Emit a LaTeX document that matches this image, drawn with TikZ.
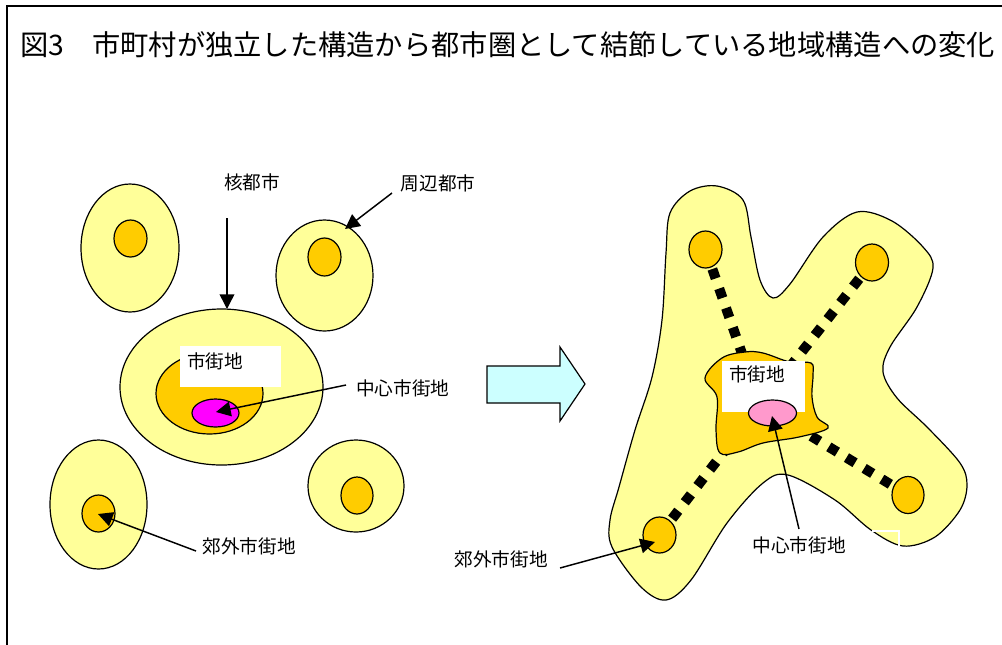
\documentclass[tikz,border=0pt]{standalone}
\usepackage{fontspec}
\setmainfont{Noto Sans CJK JP}
\usetikzlibrary{arrows.meta}
\definecolor{lyellow}{HTML}{FFFF99}
\definecolor{gold}{HTML}{FFCC00}
\definecolor{magen}{HTML}{FF00FF}
\definecolor{pinkc}{HTML}{FF99CC}
\definecolor{cyanc}{HTML}{CCFFFF}
\begin{document}
\begin{tikzpicture}[x=0.75pt,y=-0.75pt,
  outl/.style={draw=black,line width=0.9pt},
  city/.style={outl,fill=lyellow},
  core/.style={outl,fill=gold},
  lbl/.style={inner sep=0pt,font=\fontsize{14pt}{16pt}\selectfont},
  ttl/.style={inner sep=0pt,anchor=west,font=\fontsize{21.2pt}{24pt}\selectfont},
  ptr/.style={draw=black,line width=1.1pt,-{Triangle[length=11pt,width=11pt]}},
  dots/.style={draw=black,line width=7.5pt,dash pattern=on 7.5pt off 8pt}]
\useasboundingbox (0,0) rectangle (1002,644);
\fill[white] (0,0) rectangle (1002,644);
% frame
\draw[line width=1.2pt] (1003,6) -- (7,6) -- (7,645);
% title
\node[ttl] (t1) at (20,45) {図3};
\node[ttl] (t2) at (92,45) {市町村が独立した構造から都市圏として結節している地域構造への変化};

% ---------------- left diagram ----------------
\draw[city] (130,248) ellipse [x radius=49, y radius=64];
\draw[core] (130.5,238.5) ellipse [x radius=16.5, y radius=18.5];
\draw[city] (324.5,275.5) ellipse [x radius=48.5, y radius=55.5];
\draw[core] (324.5,257) ellipse [x radius=16.5, y radius=19];
\draw[city] (98.5,504.5) ellipse [x radius=48.5, y radius=64.5];
\draw[core] (98.5,513.5) ellipse [x radius=16.5, y radius=18.5];
\draw[city] (356,486) ellipse [x radius=48, y radius=46];
\draw[core] (357,495.5) ellipse [x radius=16, y radius=18.5];
\draw[city] (221.5,387) ellipse [x radius=101.5, y radius=78];
\draw[core] (209.5,393.5) ellipse [x radius=53.5, y radius=40.5];
\fill[white] (180,346) rectangle (281,387);
\node[lbl,anchor=west] (lm) at (187,361) {市街地};
\draw[outl,fill=magen] (215.5,413) ellipse [x radius=23.5, y radius=14];

\node[lbl] (lcore) at (252,182) {核都市};
\node[lbl] (lsat) at (438,183) {周辺都市};
\node[lbl,anchor=west] (lcbd) at (356,388) {中心市街地};
\node[lbl] (lsub) at (249,546) {郊外市街地};
\coordinate (a1s) at (227,218); \coordinate (a1e) at (227,309);
\coordinate (a2s) at (392,193); \coordinate (a2e) at (345,229);
\coordinate (a3s) at (346,385); \coordinate (a3e) at (216,412);
\coordinate (a4s) at (196,551); \coordinate (a4e) at (98,514);
\draw[ptr] (a1s) -- (a1e);
\draw[ptr] (a2s) -- (a2e);
\draw[ptr] (a3s) -- (a3e);
\draw[ptr] (a4s) -- (a4e);

% block arrow
\draw[outl,fill=cyanc] (487,366) -- (560,366) -- (560,347) -- (585,384) -- (560,421) -- (560,403) -- (487,403) -- cycle;

% ---------------- right diagram ----------------
\draw[city] plot[smooth cycle, tension=0.55] coordinates {
 (717,186) (743,200) (751,237) (760,280) (773,298) (790,284) (823,237)
 (857,212) (892,221) (923,247) (933,268) (917,307) (890,347) (883,372)
 (897,398) (928,428) (960,463) (967,485) (960,510) (935,537) (903,546)
 (871,530) (835,500) (788,475) (763,483) (727,523) (691,580) (666,600)
 (641,587) (612,547) (610,520) (619,487) (635,430) (652,377) (662,320)
 (666,253) (670,213) (690,191)};
\coordinate (hub) at (760,405);
\coordinate (d1) at (705.5,249.5);
\coordinate (d2) at (872,262.5);
\coordinate (d3) at (908,495);
\coordinate (d4) at (659.5,535);
\draw[dots] (d1) -- (hub);
\draw[dots] (d2) -- (hub);
\draw[dots] (d3) -- (hub);
\draw[dots] (d4) -- (hub);
\draw[core] (d1) ellipse [x radius=16.5, y radius=18.5];
\draw[core] (d2) ellipse [x radius=16.5, y radius=18.5];
\draw[core] (d3) ellipse [x radius=16, y radius=18.5];
\draw[core] (d4) ellipse [x radius=16.5, y radius=18];
\draw[core] plot[smooth cycle, tension=0.6] coordinates {
 (705,378) (722,358) (745,352) (763,353) (790,362) (811,363) (813,375)
 (812,397) (817,417) (828,428) (799,437) (763,443) (738,452) (720,453)
 (716,430) (717,397)};
\fill[white] (722,361) rectangle (805,412);
\node[lbl,anchor=west] (rm) at (729,374) {市街地};
\draw[outl,fill=pinkc] (772.5,413) ellipse [x radius=24, y radius=13];
\draw[white,line width=1.1pt] (872,531) -- (899,531) -- (899,546);

\node[lbl] (rcbd) at (799,545) {中心市街地};
\node[lbl] (rsub) at (501,559) {郊外市街地};
\coordinate (b1s) at (799,529); \coordinate (b1e) at (772,416);
\coordinate (b2s) at (560,568); \coordinate (b2e) at (655,542);
\draw[ptr] (b1s) -- (b1e);
\draw[ptr] (b2s) -- (b2e);
\end{tikzpicture}
\end{document}
